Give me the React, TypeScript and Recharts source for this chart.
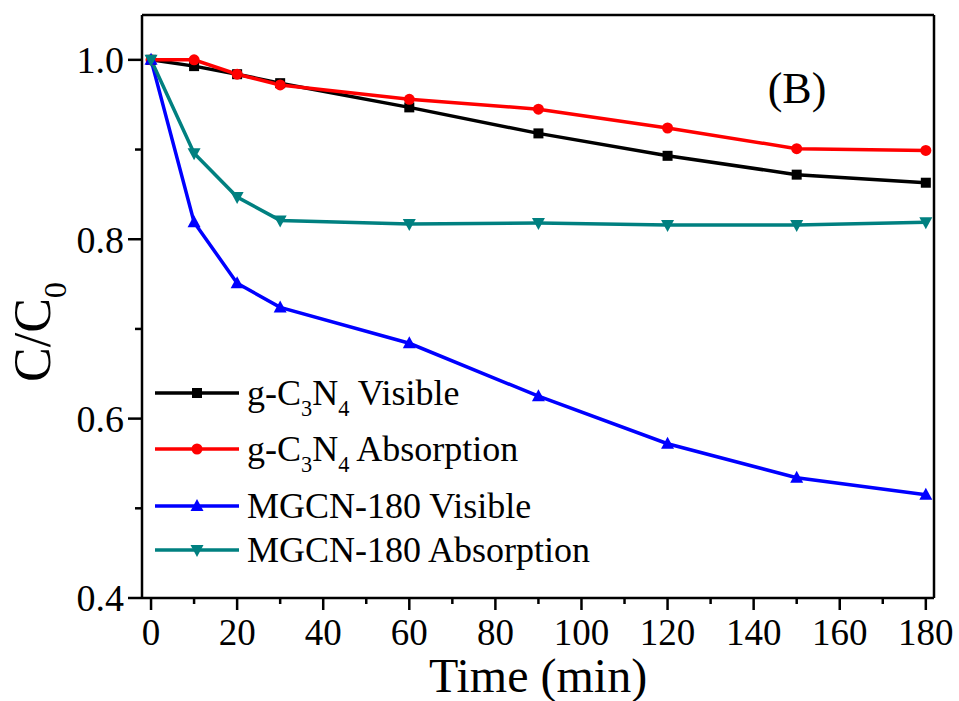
import { LineChart, Line, XAxis, YAxis, Legend } from 'recharts'

const TIMES = [0, 10, 20, 30, 60, 90, 120, 150, 180]
const GCN_VISIBLE = [1.0, 0.993, 0.984, 0.974, 0.947, 0.918, 0.893, 0.872, 0.863]
const GCN_ABSORPTION = [1.0, 1.0, 0.984, 0.972, 0.956, 0.945, 0.924, 0.901, 0.899]
const MGCN_VISIBLE = [1.0, 0.819, 0.751, 0.724, 0.684, 0.625, 0.572, 0.534, 0.515]
const MGCN_ABSORPTION = [1.0, 0.896, 0.847, 0.821, 0.817, 0.818, 0.816, 0.816, 0.819]

const X_TICKS = [0, 10, 20, 30, 40, 50, 60, 70, 80, 90, 100, 110, 120, 130, 140, 150, 160, 170, 180]
const Y_TICKS = [0.4, 0.5, 0.6, 0.7, 0.8, 0.9, 1.0]

const SERIES = [
  { key: 'gv', name: 'g-C_3N_4 Visible', color: '#000000', shape: 'square' },
  { key: 'ga', name: 'g-C_3N_4 Absorption', color: '#ff0000', shape: 'circle' },
  { key: 'mv', name: 'MGCN-180 Visible', color: '#0000ff', shape: 'up' },
  { key: 'ma', name: 'MGCN-180 Absorption', color: '#008080', shape: 'down' },
]

const data = TIMES.map((t, i) => ({
  t,
  gv: GCN_VISIBLE[i],
  ga: GCN_ABSORPTION[i],
  mv: MGCN_VISIBLE[i],
  ma: MGCN_ABSORPTION[i],
}))

const FONT = 'Liberation Serif, Tinos, DejaVu Serif, serif'

function Marker({ shape, cx, cy, color }: { shape: string; cx: number; cy: number; color: string }) {
  if (cx == null || cy == null) return null
  if (shape === 'square') return <rect x={cx - 5} y={cy - 5} width={10} height={10} fill={color} />
  if (shape === 'circle') return <circle cx={cx} cy={cy} r={5.5} fill={color} />
  if (shape === 'up')
    return <polygon points={`${cx},${cy - 7} ${cx - 6.5},${cy + 5} ${cx + 6.5},${cy + 5}`} fill={color} />
  return <polygon points={`${cx},${cy + 7} ${cx - 6.5},${cy - 5} ${cx + 6.5},${cy - 5}`} fill={color} />
}

// "g-C_3N_4" -> tspans with subscripts
function SubText({ text, size }: { text: string; size: number }) {
  const parts = text.split(/(_\d)/).filter((p) => p !== '')
  let down = false
  return (
    <>
      {parts.map((p, i) => {
        if (p.startsWith('_')) {
          const dy = down ? 0 : size * 0.3
          down = true
          return (
            <tspan key={i} fontSize={size * 0.62} dy={dy}>
              {p.slice(1)}
            </tspan>
          )
        }
        const dy = down ? -size * 0.3 : 0
        down = false
        return (
          <tspan key={i} dy={dy} style={{ whiteSpace: 'pre' }}>
            {p}
          </tspan>
        )
      })}
    </>
  )
}

function YTick({ x, y, payload }: any) {
  const v = Math.round(payload.value * 10)
  const major = v % 2 === 0
  return (
    <g>
      <line x1={x - (major ? 14 : 7)} x2={x} y1={y} y2={y} stroke="#000" strokeWidth={2.5} />
      {major && (
        <text x={x - 18} y={y} dy="0.35em" textAnchor="end" style={{ fontFamily: FONT }} fontSize={38} fill="#000">
          {payload.value.toFixed(1)}
        </text>
      )}
    </g>
  )
}

function XTick({ x, y, payload }: any) {
  const major = payload.value % 20 === 0
  return (
    <g>
      <line x1={x} x2={x} y1={y} y2={y + (major ? 12 : 6)} stroke="#000" strokeWidth={2.5} />
      {major && (
        <text x={x} y={y + 47} textAnchor="middle" style={{ fontFamily: FONT }} fontSize={37} fill="#000">
          {payload.value}
        </text>
      )}
    </g>
  )
}

const LEGEND_ROWS = [23, 79, 136, 180]

function LegendBox() {
  return (
    <svg width={470} height={210}>
      {SERIES.map((s, i) => {
        const cy = LEGEND_ROWS[i]
        return (
          <g key={s.key}>
            <line x1={5} x2={89} y1={cy} y2={cy} stroke={s.color} strokeWidth={3.5} />
            <Marker shape={s.shape} cx={47} cy={cy} color={s.color} />
            <text x={97} y={cy + 12} style={{ fontFamily: FONT }} fontSize={36} fill="#000">
              <SubText text={s.name} size={36} />
            </text>
          </g>
        )
      })}
    </svg>
  )
}

export default function App() {
  return (
    <div style={{ position: 'absolute', left: 0, top: 0, fontFamily: FONT }}>
      <LineChart width={959} height={701} data={data} margin={{ top: 11, right: 22, bottom: 0, left: 0 }}>
        <XAxis
          xAxisId="main"
          dataKey="t"
          type="number"
          domain={[-2.1, 181.9]}
          ticks={X_TICKS}
          interval={0}
          tick={<XTick />}
          tickLine={false}
          tickSize={0}
          tickMargin={0}
          height={103}
          axisLine={{ stroke: '#000', strokeWidth: 2.5 }}
          label={{ value: 'Time (min)', position: 'insideBottom', offset: 9, fontSize: 48, style: { fontFamily: FONT }, fill: '#000' }}
        />
        <XAxis
          xAxisId="top"
          orientation="top"
          dataKey="t"
          type="number"
          domain={[-2.1, 181.9]}
          ticks={X_TICKS}
          interval={0}
          tick={false}
          tickSize={4}
          height={4}
          tickLine={{ stroke: '#000', strokeWidth: 2 }}
          axisLine={{ stroke: '#000', strokeWidth: 2.5 }}
        />
        <YAxis
          yAxisId="main"
          type="number"
          domain={[0.4, 1.05]}
          ticks={Y_TICKS}
          interval={0}
          tick={<YTick />}
          tickLine={false}
          tickSize={0}
          tickMargin={0}
          width={142}
          axisLine={{ stroke: '#000', strokeWidth: 2.5 }}
        />
        <YAxis
          yAxisId="right"
          orientation="right"
          type="number"
          domain={[0.4, 1.05]}
          ticks={Y_TICKS}
          interval={0}
          tick={false}
          tickSize={3}
          width={3}
          tickLine={{ stroke: '#000', strokeWidth: 2 }}
          axisLine={{ stroke: '#000', strokeWidth: 2.5 }}
        />
        <Legend
          layout="vertical"
          align="center"
          verticalAlign="middle"
          content={<LegendBox />}
          wrapperStyle={{ position: 'absolute', left: 150, top: 370, width: 470, height: 210 }}
        />
        {SERIES.map((s) => (
          <Line
            key={s.key}
            xAxisId="main"
            yAxisId="main"
            dataKey={s.key}
            name={s.name}
            type="linear"
            stroke={s.color}
            strokeWidth={3.5}
            isAnimationActive={false}
            dot={(p: any) => <Marker key={`${s.key}-${p.index}`} shape={s.shape} cx={p.cx} cy={p.cy} color={s.color} />}
            activeDot={false}
          />
        ))}
        <text x={797} y={103} textAnchor="middle" style={{ fontFamily: FONT }} fontSize={44} fill="#000">
          (B)
        </text>
        <text
          x={50}
          y={332}
          transform="rotate(-90 50 332)"
          textAnchor="middle"
          style={{ fontFamily: FONT }}
          fontSize={52}
          fill="#000"
        >
          <SubText text="C/C_0" size={52} />
        </text>
      </LineChart>
    </div>
  )
}
